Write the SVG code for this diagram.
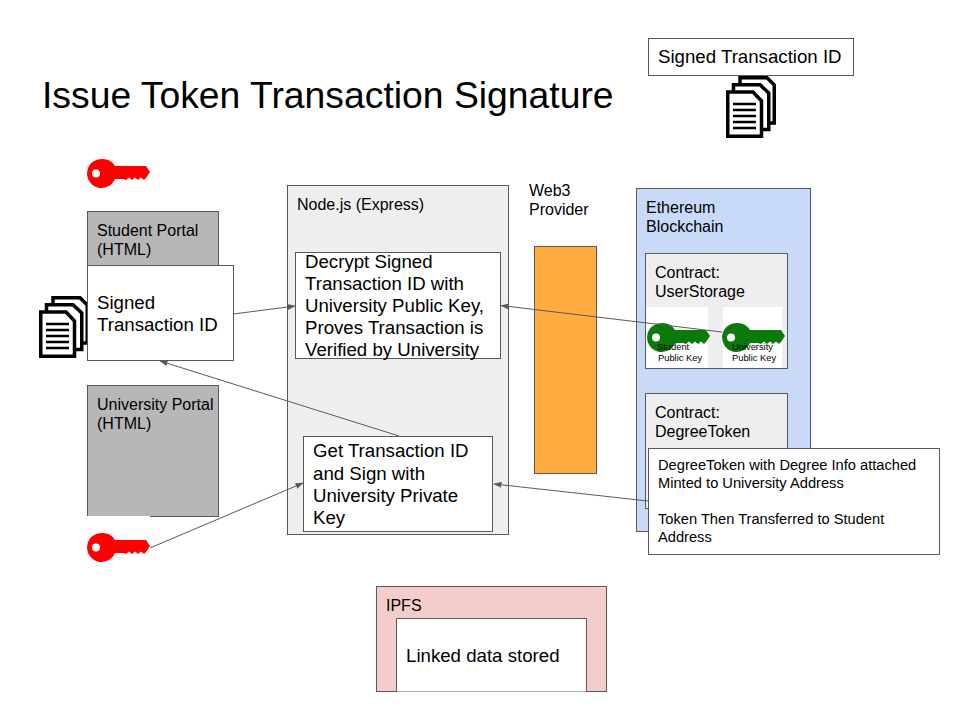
<svg xmlns="http://www.w3.org/2000/svg" width="960" height="720" viewBox="0 0 960 720">
<style>
text{font-family:"Liberation Sans",Arial,sans-serif;font-size:16px;fill:#000}
.b{stroke:#595959;stroke-width:1}
.big{font-size:18.670px}
.m{font-size:14.670px}
.c{fill:none;stroke:#595959;stroke-width:1;marker-end:url(#a)}
.s{font-size:9.330px}
</style>
<defs>
<marker id="a" viewBox="0 0 8 6" refX="7.500" refY="3" markerWidth="8" markerHeight="6" markerUnits="userSpaceOnUse" orient="auto"><path d="M0 0L8 3L0 6Z" fill="#595959"/></marker>
<symbol id="key" viewBox="0 0 62 30" width="62" height="30" overflow="visible">
<path fill-rule="evenodd" d="M14.500 0A14.500 14.500 0 0 1 27 7H58L62 13L58 19L56 21L53 18.500L50 21L47 18.500L44 21L41 18.500L38 21L35 20H27A14.500 14.500 0 1 1 14.500 0ZM8 10.500A4 4 0 1 0 8 18.500A4 4 0 1 0 8 10.500Z"/>
</symbol>
<symbol id="docs" viewBox="0 0 50 62" width="50" height="62" overflow="visible">
<g fill="none" stroke="#000" stroke-width="3.500">
<path fill="#fff" d="M1.750 16H27L35.500 25V60.250H1.750Z"/>
<path d="M7.500 15V8.750H34L42.750 17V53.500H37"/>
<path d="M14 8V1.750H41L48.250 9V47H44"/>
<path d="M7 28H30M7 34H30M7 40H30M7 46H30M7 52H30" stroke-width="2.300"/>
</g>
</symbol>
</defs>
<rect width="960" height="720" fill="#fff"/>
<text id="title" x="42" y="108" style="font-size:37.300px">Issue Token Transaction Signature</text>

<g id="signed-top">
<rect x="648.500" y="38.500" width="205" height="37" fill="#fff" class="b"/>
<text x="658" y="63" class="big">Signed Transaction ID</text>
</g>
<use id="docs-top" href="#docs" x="726" y="76"/>

<g id="student-key" fill="#f00"><use href="#key" x="88" y="159"/></g>

<g id="student-portal">
<rect x="87.500" y="211.500" width="131" height="70" fill="#b7b7b7" class="b"/>
<text x="97" y="236">Student Portal</text>
<text x="97" y="255">(HTML)</text>
</g>
<g id="university-portal">
<rect x="87.500" y="385.500" width="131" height="131" fill="#b7b7b7" class="b"/>
<text x="97" y="410">University Portal</text>
<text x="97" y="429">(HTML)</text>
</g>
<g id="university-key">
<rect x="87" y="516" width="63" height="2" fill="#fff"/>
<g fill="#f00"><use href="#key" x="88" y="533"/></g>
</g>

<use id="docs-left" href="#docs" x="39" y="296"/>
<g id="signed-left">
<rect x="87.500" y="265.500" width="146" height="95" fill="#fff" class="b"/>
<text x="97" y="309" class="big">Signed</text>
<text x="97" y="331" class="big">Transaction ID</text>
</g>

<g id="node">
<rect x="287.500" y="185.500" width="221" height="349" fill="#eee" class="b"/>
<text x="297" y="210">Node.js (Express)</text>
</g>
<g id="decrypt">
<rect x="295.500" y="252.500" width="205" height="106" fill="#fff" class="b"/>
<text x="305" y="268" class="big">Decrypt Signed</text>
<text x="305" y="290" class="big">Transaction ID with</text>
<text x="305" y="312" class="big">University Public Key,</text>
<text x="305" y="334" class="big">Proves Transaction is</text>
<text x="305" y="356" class="big">Verified by University</text>
</g>
<g id="get-id">
<rect x="303.500" y="436.500" width="189" height="95" fill="#fff" class="b"/>
<text x="313" y="457" class="big">Get Transaction ID</text>
<text x="313" y="480" class="big">and Sign with</text>
<text x="313" y="502" class="big">University Private</text>
<text x="313" y="524" class="big">Key</text>
</g>

<g id="web3">
<text x="529" y="196">Web3</text>
<text x="529" y="215">Provider</text>
<rect x="534.500" y="246.500" width="62" height="227" fill="#ffab40" class="b"/>
</g>

<g id="ethereum">
<rect x="636.500" y="188.500" width="174" height="343" fill="#c9daf8" class="b"/>
<text x="646" y="213">Ethereum</text>
<text x="646" y="232">Blockchain</text>
</g>
<g id="userstorage">
<rect x="645.500" y="253.500" width="142" height="115" fill="#eee" class="b"/>
<text x="655" y="278">Contract:</text>
<text x="655" y="297">UserStorage</text>
<rect x="646" y="307" width="62" height="61" fill="#fff"/>
<rect x="723" y="307" width="59" height="61" fill="#fff"/>
<g fill="#0b7a0b"><use href="#key" x="648" y="323"/><use href="#key" x="723" y="323"/></g>
<text x="657" y="350" class="s">Student</text>
<text x="658" y="361" class="s">Public Key</text>
<text x="732" y="350" class="s">University</text>
<text x="732" y="361" class="s">Public Key</text>
</g>
<g id="degreetoken">
<rect x="645.500" y="393.500" width="142" height="115" fill="#eee" class="b"/>
<text x="655" y="418">Contract:</text>
<text x="655" y="437">DegreeToken</text>
</g>
<g id="minted">
<rect x="648.500" y="448.500" width="291" height="106" fill="#fff" class="b"/>
<text x="658" y="470" class="m">DegreeToken with Degree Info attached</text>
<text x="658" y="488" class="m">Minted to University Address</text>
<text x="658" y="524" class="m">Token Then Transferred to Student</text>
<text x="658" y="542" class="m">Address</text>
</g>

<g id="ipfs">
<rect x="376.500" y="586.500" width="230" height="105" fill="#f4cccc" class="b"/>
<text x="386" y="611">IPFS</text>
<path d="M396.500 691.500V618.500H586.500V691.500" fill="#fff" class="b"/>
<text x="406" y="662" class="big">Linked data stored</text>
</g>

<g id="connectors">
<path class="c" d="M233.500 314L295 306"/>
<path class="c" d="M722 332L501 305.500"/>
<path class="c" d="M648 501L494 484"/>
<path class="c" d="M399 436L160 361"/>
<path class="c" d="M150 548L303 483"/>
</g>
</svg>
